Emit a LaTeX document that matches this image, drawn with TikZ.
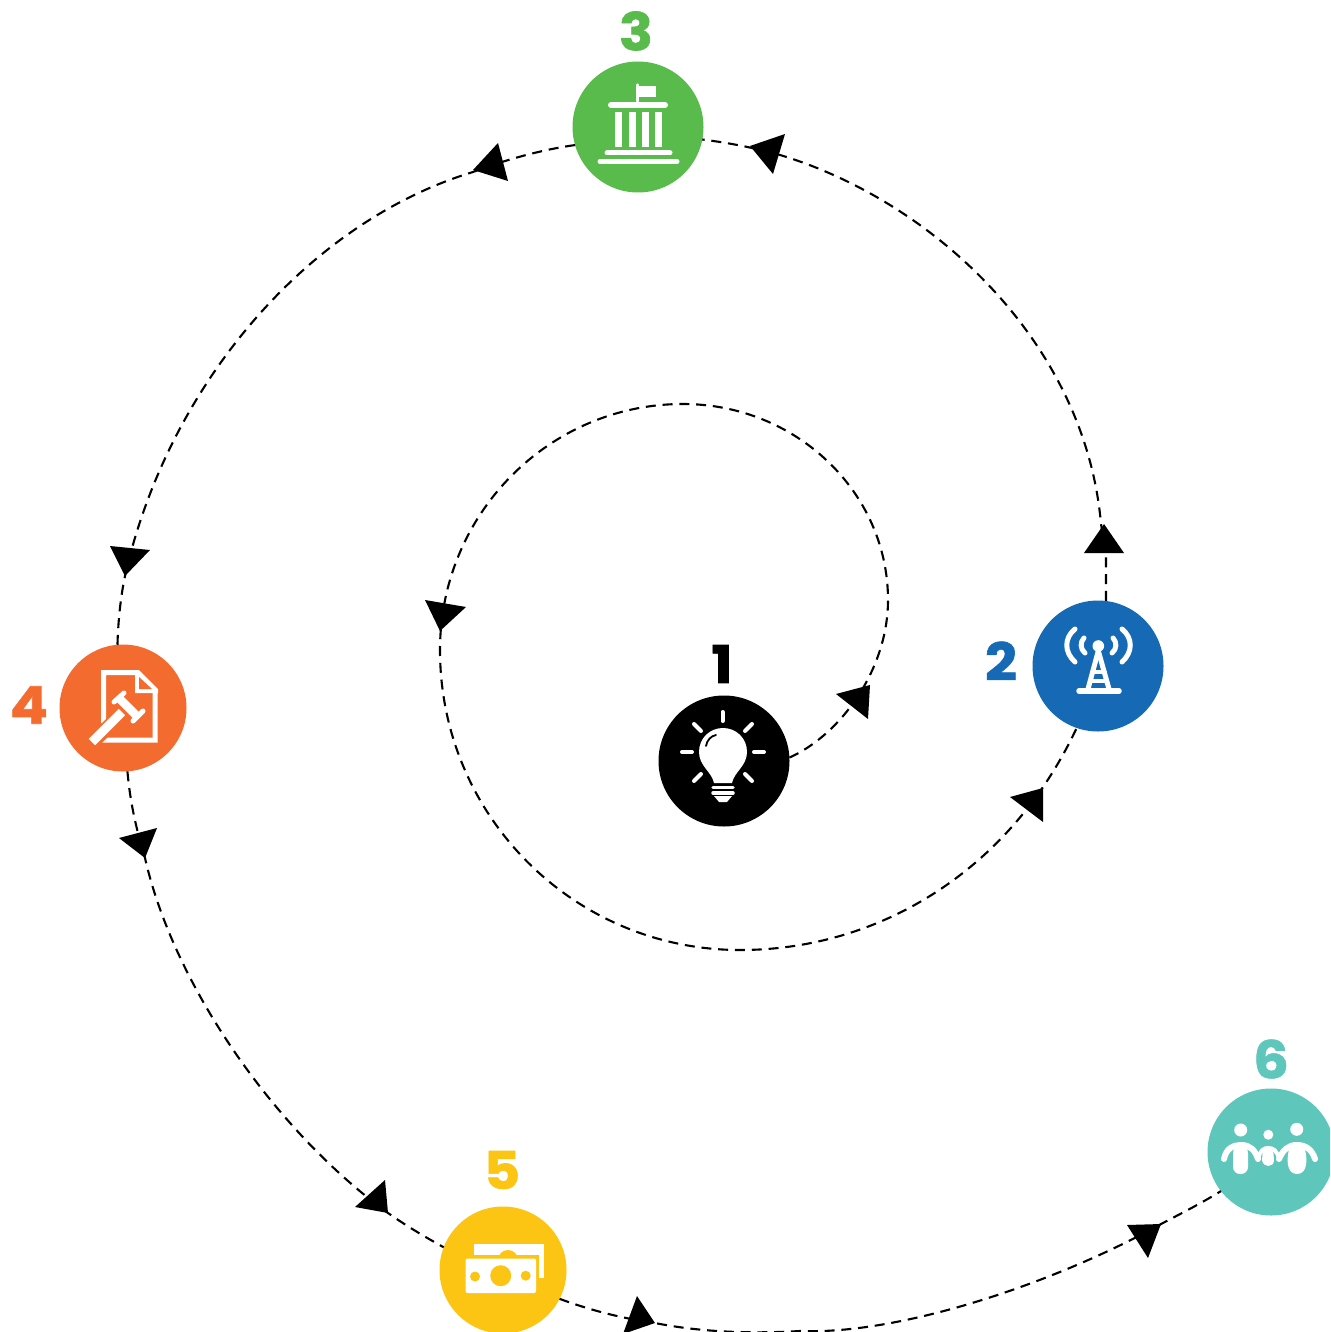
\documentclass[tikz,border=0pt]{standalone}
\usepackage{fontspec}
\setmainfont{Poppins}[BoldFeatures={FakeBold=1.2,FakeStretch=1.08}]
\definecolor{cgreen}{HTML}{58BB4B}
\definecolor{cblue}{HTML}{166AB5}
\definecolor{corange}{HTML}{F46B2F}
\definecolor{cyellow}{HTML}{FDC513}
\definecolor{cteal}{HTML}{5EC6BB}
\tikzset{
  stage/.style={circle,inner sep=0pt,outer sep=0pt,minimum size=#1},
  numlabel/.style={inner sep=0pt,font=\fontsize{52}{52}\selectfont\bfseries},
  conn/.style={line width=2.1pt,black,dash pattern=on 10pt off 6.8pt},
  tip/.style={fill=black},
  ico/.style={white,line cap=round,line join=round}
}
\begin{document}
\begin{tikzpicture}[x=1pt,y=-1pt]
\useasboundingbox (0,0) rectangle (1330,1332);
\clip (0,0) rectangle (1330,1332);
% stages
\node[stage=131pt,fill=black]   (n1) at (724,761) {};
\node[stage=131pt,fill=cblue]   (n2) at (1098,666) {};
\node[stage=131pt,fill=cgreen]  (n3) at (638,127) {};
\node[stage=127pt,fill=corange] (n4) at (123,708) {};
\node[stage=127pt,fill=cyellow] (n5) at (503,1270) {};
\node[stage=127pt,fill=cteal]   (n6) at (1271,1152) {};
% labels
\node[numlabel,text=black]   (l1) at (722,664) {1};
\node[numlabel,text=cblue]   (l2) at (1001,661) {2};
\node[numlabel,text=cgreen]  (l3) at (636,31) {3};
\node[numlabel,text=corange] (l4) at (29,705) {4};
\node[numlabel,text=cyellow] (l5) at (502,1170) {5};
\node[numlabel,text=cteal]   (l6) at (1271,1059) {6};
% connectors
\draw[conn] (n1.3) .. controls (840,735) and (888,670) .. (888,600)
  .. controls (888,492) and (796,404) .. (683,404)
  .. controls (549,404) and (440,514) .. (440,650)
  .. controls (440,816) and (574,950) .. (740,950)
  .. controls (880,950) and (1010,870) .. (n2.251);
\draw[conn] (n2.83) -- (1106,555) -- (1101,524)
  .. controls (1085,340) and (930,200) .. (780,155)
  .. controls (755,148) and (730,143) .. (n3.-11);
\draw[conn] (n3.196) .. controls (540,150) and (505,160) .. (473,172)
  .. controls (308,222) and (168,385) .. (125,576)
  .. controls (120,600) and (118,625) .. (n4.95);
\draw[conn] (n4.274) .. controls (130,800) and (135,825) .. (145,858)
  .. controls (175,990) and (280,1135) .. (388,1213)
  .. controls (405,1225) and (425,1237) .. (n5.159);
\draw[conn] (n5.-27) .. controls (590,1310) and (620,1318) .. (655,1323)
  .. controls (700,1332) and (750,1334) .. (800,1331)
  .. controls (900,1335) and (1055,1283) .. (1161,1224)
  .. controls (1180,1214) and (1200,1204) .. (n6.218);
% arrowheads
\fill[tip] (870,685) -- (836,694) -- (868,719) -- cycle;
\fill[tip] (440,631) -- (425,600) -- (466,607) -- cycle;
\fill[tip] (1043,788) -- (1010,797) -- (1043,822) -- cycle;
\fill[tip] (1104,524) -- (1084,553) -- (1124,553) -- cycle;
\fill[tip] (750,146) -- (785,134) -- (773,174) -- cycle;
\fill[tip] (473,170) -- (498,143) -- (508,181) -- cycle;
\fill[tip] (125,576) -- (110,546) -- (150,550) -- cycle;
\fill[tip] (145,858) -- (119,838) -- (157,828) -- cycle;
\fill[tip] (388,1213) -- (355,1207) -- (385,1180) -- cycle;
\fill[tip] (655,1323) -- (637,1296) -- (623,1334) -- cycle;
\fill[tip] (1161,1224) -- (1127,1225) -- (1148,1258) -- cycle;
% bulb icon
\foreach \a/\b/\c/\d in {722.5/712/722.5/721, 754/752/764/752, 682/752/692/752, 694/724/701/731, 752/724/745/731, 694/781/701/774, 752/781/745/774}
  \draw[ico,line width=4pt] (\a,\b) -- (\c,\d);
\fill[white] (714,783) .. controls (712,772) and (699,766) .. (699,752)
  .. controls (699,738) and (710,728) .. (723,728)
  .. controls (736,728) and (747,738) .. (747,752)
  .. controls (747,766) and (734,772) .. (732,783) -- cycle;
\draw[black,line width=1.8pt,line cap=round] (706,746) .. controls (707,740) and (711,736) .. (716,735);
\draw[ico,line width=3.5pt] (713,787.5) -- (733,787.5);
\draw[ico,line width=3.5pt] (713,793) -- (733,793);
\fill[white] (714,796) -- (732,796) -- (727,802) -- (719,802) -- cycle;
% tower icon
\fill[white] (1098.3,646) circle (5.8pt);
\draw[ico,line width=5pt] (1098,652) -- (1088,689);
\draw[ico,line width=5pt] (1098.6,652) -- (1109,689);
\draw[ico,line width=3.5pt] (1092,672) -- (1105,672);
\draw[ico,line width=3.5pt] (1090,681) -- (1107,681);
\draw[ico,line width=5.5pt] (1079,691) -- (1119,691);
\draw[ico,line width=5pt] (1084,638) .. controls (1080,642) and (1080,649) .. (1085,653);
\draw[ico,line width=5pt] (1075,629) .. controls (1064,638) and (1064,652) .. (1075,662);
\draw[ico,line width=5pt] (1113,638) .. controls (1117,642) and (1117,649) .. (1112,653);
\draw[ico,line width=5pt] (1122,629) .. controls (1133,638) and (1133,652) .. (1122,662);
% government icon
\draw[ico,line width=3.5pt] (637.5,85) -- (637.5,101);
\fill[white] (637,86) rectangle (655.5,97);
\draw[ico,line width=6pt] (611,105) -- (665,105);
\foreach \x in {615,628.5,642,655} \fill[white] (\x,112) rectangle (\x+7,147);
\draw[ico,line width=5pt] (607,153) -- (670,153);
\draw[ico,line width=5pt] (600,161.5) -- (677,161.5);
% document + gavel icon
\draw[white,line width=5pt,line join=miter] (103.5,723) -- (103.5,672.5) -- (137,672.5) -- (155,691) -- (155,740) -- (102,740);
\fill[white] (135,670) -- (139,670) -- (158,689) -- (158,693) -- (135,693) -- cycle;
\fill[corange] (139,677) -- (152,689) -- (139,689) -- cycle;
\draw[corange,line width=14pt] (93,742) -- (122,713);
\draw[white,line width=9pt] (92,742) -- (122,712);
\fill[white] (116,701) -- (122,695) -- (141,714) -- (135,720) -- cycle;
\draw[ico,line width=5pt] (114,702) -- (124,693);
\draw[ico,line width=5pt] (133,721) -- (143,711);
% money icon
\fill[white] (473.5,1244) rectangle (543.5,1255);
\fill[white] (539,1255) rectangle (543.5,1278);
\fill[cyellow] (508,1260) circle (10pt);
\fill[white,rounded corners=2pt] (465.5,1258.5) rectangle (536,1293);
\fill[cyellow] (500.7,1275.7) circle (10.5pt);
\fill[cyellow] (475,1276.5) circle (5pt);
\fill[cyellow] (525.7,1275.7) circle (5pt);
% people icon
\fill[white] (1240.7,1130) circle (6.5pt);
\fill[white] (1268.3,1134.7) circle (5pt);
\fill[white] (1296.7,1129.3) circle (6.5pt);
\draw[ico,line width=6pt] (1224,1159) .. controls (1226,1148) and (1234,1145) .. (1241,1145) .. controls (1250,1145) and (1255,1150) .. (1258,1159);
\draw[ico,line width=6pt] (1279,1159) .. controls (1283,1150) and (1288,1145) .. (1297,1145) .. controls (1305,1145) and (1312,1149) .. (1315,1159);
\draw[ico,line width=4pt] (1258,1159) .. controls (1260,1150) and (1264,1148) .. (1268,1148) .. controls (1273,1148) and (1277,1150) .. (1279,1159);
\fill[white,rounded corners=7pt] (1233,1146) rectangle (1248,1174);
\fill[white] (1263,1148) -- (1273,1148) -- (1274,1160) .. controls (1274,1168) and (1263,1168) .. (1262,1160) -- cycle;
\fill[white] (1290,1146) -- (1304,1146) .. controls (1308,1158) and (1308,1174) .. (1297,1174) .. controls (1286,1174) and (1286,1158) .. (1290,1146) -- cycle;
\end{tikzpicture}
\end{document}
